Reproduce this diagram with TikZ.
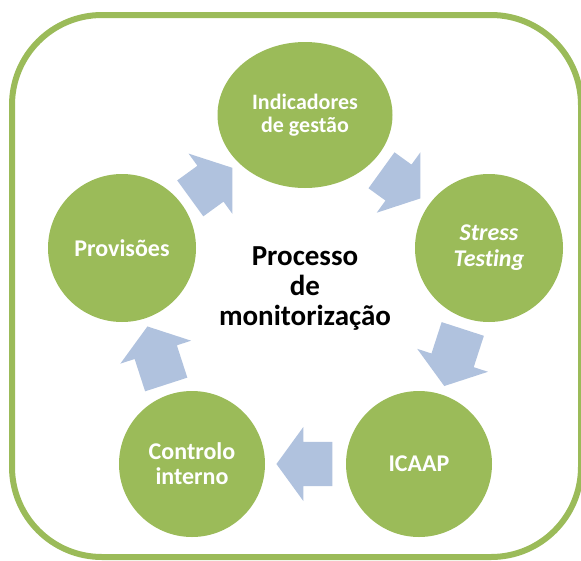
\documentclass[tikz,border=0pt]{standalone}
\usepackage{fontspec}
\setmainfont{Carlito}[Ligatures=NoCommon]
\usetikzlibrary{shapes.geometric,shapes.arrows}
\definecolor{stagegreen}{HTML}{9BBB59}
\definecolor{flowblue}{HTML}{B0C2DE}
\tikzset{
  stage/.style={circle,fill=stagegreen,minimum size=148pt,inner sep=0pt,text=white,align=center,
    font=\bfseries\fontsize{24}{25}\selectfont},
  flow/.style={single arrow,fill=flowblue,minimum width=74pt,single arrow head extend=15pt,
    single arrow tip angle=108,inner xsep=0pt,inner ysep=22pt,midway,sloped,allow upside down,xshift=-7pt}
}
\begin{document}
\begin{tikzpicture}[x=1pt,y=-1pt]
\useasboundingbox (0,0) rectangle (581,560);
\draw[stagegreen,line width=6pt,rounded corners=90pt] (12,15) rectangle (581,557);
\node[stage,ellipse,minimum width=175pt,minimum height=146pt,font=\bfseries\fontsize{22}{23}\selectfont] (ind) at (305,115) {Indicadores\\de gestão};
\node[stage,font=\bfseries\itshape\fontsize{24}{26}\selectfont] (stress) at (489,248) {Stress\\Testing};
\node[stage,minimum size=146pt] (icaap) at (419,464) {ICAAP};
\node[stage,minimum size=146pt] (ctrl) at (192,464) {Controlo\\interno};
\node[stage] (prov) at (122,248) {Provisões};
\node[font=\bfseries\fontsize{29}{30}\selectfont,align=center] (proc) at (305,289) {Processo\\de\\monitorização};
\path (prov) -- (ind) node[flow,minimum height=52pt]{};
\path (ind) -- (stress) node[flow,minimum height=48pt]{};
\path (stress) -- (icaap) node[flow,minimum height=60pt]{};
\path (icaap) -- (ctrl) node[flow,minimum height=56pt]{};
\path (ctrl) -- (prov) node[flow,minimum height=61pt]{};
\end{tikzpicture}
\end{document}
